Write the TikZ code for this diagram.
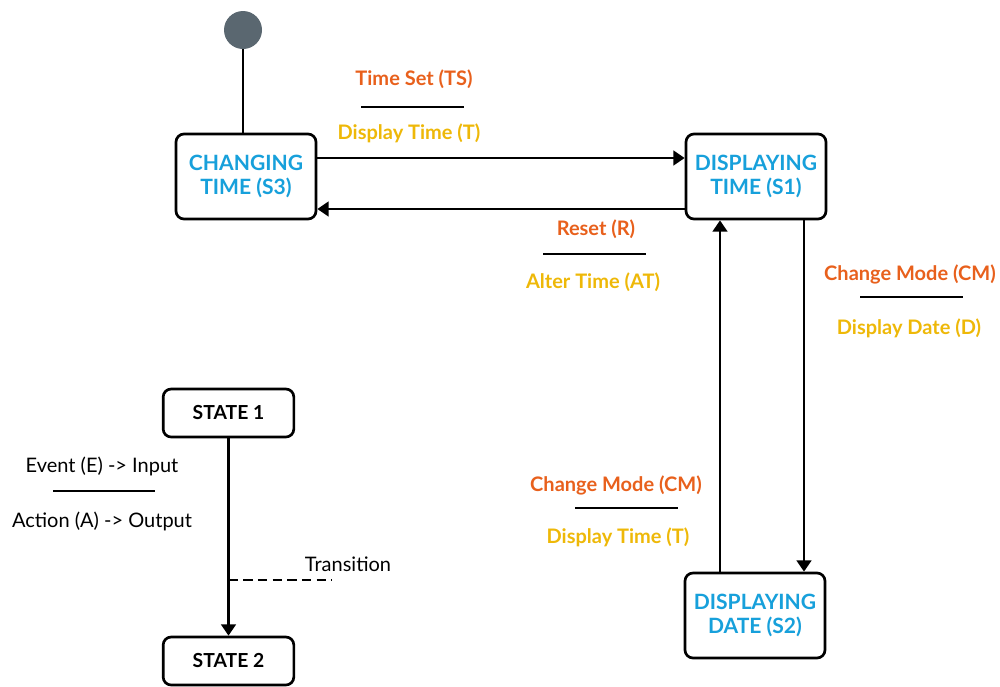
\documentclass[tikz,border=0pt]{standalone}
\usepackage{fontspec}
\setmainfont{Lato}
\usetikzlibrary{arrows.meta,calc}
\definecolor{stblue}{HTML}{17A0DB}
\definecolor{evorange}{HTML}{E8601C}
\definecolor{acyellow}{HTML}{EEB808}
\definecolor{initgray}{HTML}{5A6770}
\begin{document}
\begin{tikzpicture}[x=0.75pt,y=-0.75pt,
  statebox/.style={draw=black, line width=2pt, rounded corners=6pt, fill=white,
    minimum width=105pt, minimum height=63.75pt, align=center,
    text=stblue, font=\fontsize{15.8pt}{18pt}\selectfont\bfseries},
  legbox/.style={draw=black, line width=2pt, rounded corners=6pt, fill=white,
    minimum width=98pt, minimum height=36pt, align=center,
    font=\fontsize{14.5pt}{16pt}\selectfont\bfseries},
  evtext/.style={text=evorange, font=\fontsize{15pt}{17pt}\selectfont\bfseries},
  actext/.style={text=acyellow, font=\fontsize{15pt}{17pt}\selectfont\bfseries},
  legtext/.style={font=\fontsize{15pt}{17pt}\selectfont},
  sep/.style={line width=1.8pt},
  conn/.style={line width=2pt},
  arr/.style={conn, -{Triangle[length=8.5pt,width=11pt]}}
]
\useasboundingbox (0,0) rectangle (1000,686);

% initial pseudo-state
\node[circle, fill=initgray, minimum size=28.5pt, inner sep=0pt] (init) at (243,30) {};

% states
\node[statebox] (S3) at (246,176.5) {CHANGING\\TIME (S3)};
\node[statebox] (S1) at (756,176.5) {DISPLAYING\\TIME (S1)};
\node[statebox] (S2) at (755,615.5) {DISPLAYING\\DATE (S2)};

% connectors
\draw[conn] (init.south) -- (init.south |- S3.north);
\draw[arr] (S3.east |- 0,158) -- (S1.west |- 0,158);
\draw[arr] (S1.west |- 0,209) -- (S3.east |- 0,209);
\draw[arr] (S1.south -| 804,0) -- (S2.north -| 804,0);
\draw[arr] (S2.north -| 720,0) -- (S1.south -| 720,0);

% labels: S3 -> S1
\node[evtext] (l1e) at (414,79) {Time Set (TS)};
\draw[sep] (361,107) coordinate (l1a) -- (464,107) coordinate (l1b);
\node[actext] (l1t) at (409,133) {Display Time (T)};

% labels: S1 -> S3
\node[evtext] (l2e) at (596,229) {Reset (R)};
\draw[sep] (543,254) coordinate (l2a) -- (646,254) coordinate (l2b);
\node[actext] (l2t) at (593,282) {Alter Time (AT)};

% labels: S1 -> S2
\node[evtext] (l3e) at (910,274) {Change Mode (CM)};
\draw[sep] (860,297) coordinate (l3a) -- (963,297) coordinate (l3b);
\node[actext] (l3t) at (909,328) {Display Date (D)};

% labels: S2 -> S1
\node[evtext] (l4e) at (616,485) {Change Mode (CM)};
\draw[sep] (575,508) coordinate (l4a) -- (678,508) coordinate (l4b);
\node[actext] (l4t) at (618,537) {Display Time (T)};

% legend
\node[legbox] (st1) at (228.5,413) {STATE 1};
\node[legbox] (st2) at (228.5,661) {STATE 2};
\draw[arr] (st1.south) -- (st2.north);
\coordinate (tr) at (332,580);
\draw[conn, line width=1.6pt, dash pattern=on 7pt off 4pt] (st1.south |- tr) -- (tr);
\node[legtext] (trl) at (348,564) {Transition};
\node[legtext] (ev) at (102,466) {Event (E) -> Input};
\draw[sep] (53,491) coordinate (eva) -- (155,491) coordinate (evb);
\node[legtext] (ac) at (102,521) {Action (A) -> Output};
\end{tikzpicture}
\end{document}
